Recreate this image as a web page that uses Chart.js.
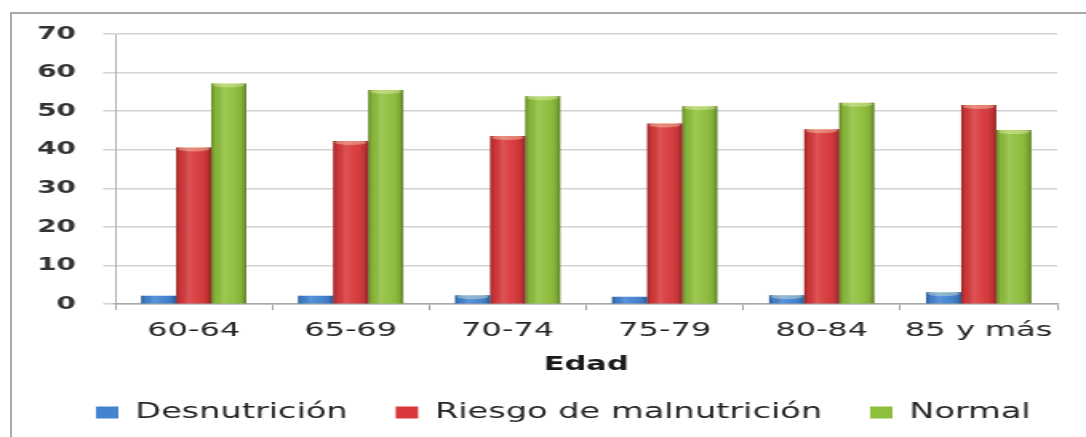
<!DOCTYPE html>
<html>
<head>
<meta charset="utf-8">
<script src="https://cdn.jsdelivr.net/npm/chart.js@4.4.1/dist/chart.umd.min.js"></script>
<style>
  html, body { margin: 0; padding: 0; background: #fff; overflow: hidden; }
  #wrap { position: relative; width: 1086px; height: 437px; }
  #c { position: absolute; left: 0; top: 0; filter: blur(0.4px); }
  #frame { position: absolute; left: 10px; top: 12px; width: 1100px; height: 460px;
           border-left: 2px solid #a8a8a8; border-top: 2px solid #a8a8a8; pointer-events: none; }
</style>
</head>
<body>
<div id="wrap">
  <!-- narrower drawing surface, widened to the page width -->
  <canvas id="c" width="679" height="437" style="width:1086px;height:437px"></canvas>
  <div id="frame"></div>
</div>
<script>
// Age groups and the share (%) of each nutritional status
const categories = ['60-64', '65-69', '70-74', '75-79', '80-84', '85 y más'];
const desnutricion = [2.2, 2.2, 2.3, 1.9, 2.3, 3.1];
const riesgo = [40.6, 42.3, 43.6, 46.8, 45.3, 51.6];
const normal = [57.2, 55.5, 53.9, 51.3, 52.2, 45.1];
const seriesNames = ['Desnutrición', 'Riesgo de malnutrición', 'Normal'];
const yTicks = [0, 10, 20, 30, 40, 50, 60, 70];

const FONT = "'DejaVu Sans', Verdana, sans-serif";

// Cylinder-like shading over each bar: dark edges, light centre stripe, lit top
const barShade = {
  id: 'barShade',
  afterDatasetsDraw(chart) {
    const ctx = chart.ctx;
    chart.data.datasets.forEach((ds, di) => {
      const meta = chart.getDatasetMeta(di);
      meta.data.forEach(bar => {
        const { x, y, base, width } = bar.getProps(['x', 'y', 'base', 'width'], true);
        const l = x - width / 2;
        const g = ctx.createLinearGradient(l, 0, l + width, 0);
        g.addColorStop(0, 'rgba(0,0,0,0.30)');
        g.addColorStop(0.12, 'rgba(0,0,0,0.05)');
        g.addColorStop(0.35, 'rgba(255,255,255,0.14)');
        g.addColorStop(0.6, 'rgba(255,255,255,0.04)');
        g.addColorStop(0.88, 'rgba(0,0,0,0.10)');
        g.addColorStop(1, 'rgba(0,0,0,0.35)');
        ctx.save();
        ctx.fillStyle = g;
        ctx.fillRect(l, y, width, base - y);
        if (base - y > 8) {
          ctx.beginPath();
          ctx.ellipse(x, y + 1.5, width / 2 - 1, 2.5, 0, 0, Math.PI * 2);
          ctx.fillStyle = 'rgba(255,255,210,0.35)';
          ctx.fill();
        }
        ctx.restore();
      });
    });
  }
};

// Shift the legend row to the right, keeping its own item spacing
const legendShift = {
  id: 'legendShift',
  afterLayout(chart) {
    const lg = chart.legend;
    if (lg) { lg.left += 30; lg.right += 30; }
  }
};

new Chart(document.getElementById('c'), {
  type: 'bar',
  data: {
    labels: categories,
    datasets: [
      { label: seriesNames[0], data: desnutricion, backgroundColor: '#4283d2' },
      { label: seriesNames[1], data: riesgo, backgroundColor: '#d8383a' },
      { label: seriesNames[2], data: normal, backgroundColor: '#8ebf3b' }
    ]
  },
  plugins: [barShade, legendShift],
  options: {
    responsive: false,
    animation: false,
    devicePixelRatio: 1,
    categoryPercentage: 0.67,
    barPercentage: 1.0,
    layout: { padding: { left: 0, right: 18, top: 34, bottom: 4 } },
    plugins: {
      tooltip: { enabled: false },
      legend: {
        position: 'bottom',
        align: 'start',
        labels: {
          boxWidth: 14,
          boxHeight: 12,
          padding: 30,
          color: '#262626',
          font: { family: FONT, size: 21 }
        }
      }
    },
    scales: {
      x: {
        afterFit(scale) { scale.height -= 3; },
        grid: { display: true, drawOnChartArea: false, tickLength: 6, color: '#a0a0a0', lineWidth: 1 },
        border: { display: true, color: '#a8a8a8', width: 1.5 },
        ticks: { color: '#262626', font: { family: FONT, size: 20 }, padding: 9, maxRotation: 0 },
        title: { display: true, text: 'Edad', color: '#1a1a1a', padding: { top: 4, bottom: -4 },
                 font: { family: FONT, size: 19, weight: 'bold' } }
      },
      y: {
        min: 0,
        max: 70,
        afterFit(scale) { scale.width = 72; },
        afterBuildTicks(scale) { scale.ticks = yTicks.map(v => ({ value: v })); },
        grid: { color: '#d2d2d2', lineWidth: 1.5, tickLength: 7.5 },
        border: { display: true, color: '#b0b0b0', width: 1 },
        ticks: { color: '#333', font: { family: FONT, size: 17.5, weight: 'bold' }, padding: 17 }
      }
    }
  }
});
</script>
</body>
</html>
